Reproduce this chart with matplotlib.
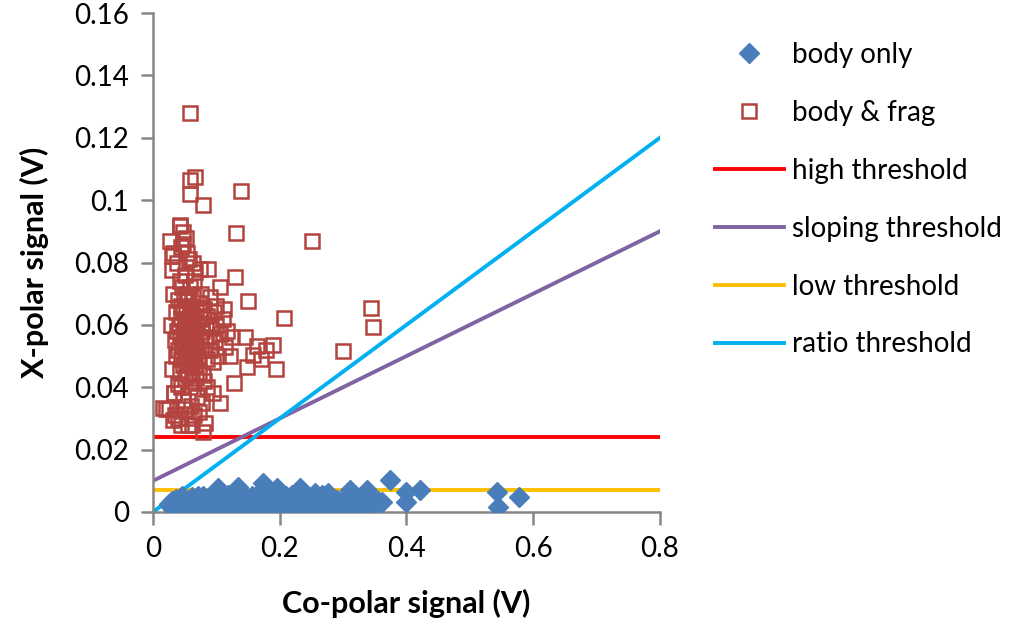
import matplotlib
matplotlib.use('agg')
import matplotlib.pyplot as plt

plt.rcParams['font.family'] = ['Lato', 'DejaVu Sans']

# body only: co-polar / x-polar signal (V)
body_x = [0.025, 0.028, 0.030, 0.032, 0.033, 0.035, 0.036, 0.038, 0.040, 0.041,
          0.042, 0.044, 0.045, 0.047, 0.048, 0.050, 0.051, 0.052, 0.054, 0.055,
          0.057, 0.058, 0.060, 0.061, 0.062, 0.064, 0.065, 0.067, 0.068, 0.070,
          0.071, 0.072, 0.074, 0.075, 0.077, 0.078, 0.080, 0.082, 0.083, 0.085,
          0.087, 0.088, 0.090, 0.092, 0.093, 0.095, 0.097, 0.098, 0.100, 0.102,
          0.104, 0.106, 0.108, 0.110, 0.112, 0.114, 0.116, 0.118, 0.120, 0.123,
          0.126, 0.128, 0.131, 0.134, 0.137, 0.140, 0.143, 0.146, 0.150, 0.153,
          0.156, 0.160, 0.163, 0.167, 0.170, 0.174, 0.178, 0.182, 0.186, 0.190,
          0.194, 0.198, 0.202, 0.206, 0.210, 0.214, 0.218, 0.222, 0.226, 0.230,
          0.234, 0.238, 0.242, 0.246, 0.250, 0.254, 0.258, 0.262, 0.266, 0.270,
          0.274, 0.278, 0.282, 0.286, 0.290, 0.295, 0.300, 0.305, 0.310, 0.315,
          0.320, 0.325, 0.330, 0.335, 0.340, 0.345, 0.350, 0.355, 0.361, 0.374,
          0.400, 0.400, 0.421, 0.543, 0.545, 0.578,
          0.046, 0.053, 0.059, 0.066, 0.073, 0.079, 0.086, 0.094, 0.101, 0.109,
          0.117, 0.125, 0.133, 0.141, 0.149, 0.158, 0.166, 0.176, 0.184, 0.196,
          0.208, 0.220, 0.232, 0.244, 0.256, 0.268, 0.280, 0.292, 0.311, 0.337,
          0.103, 0.134, 0.174, 0.195, 0.232, 0.276]
body_y = [0.0025, 0.0015, 0.0035, 0.0010, 0.0028, 0.0020, 0.0042, 0.0012, 0.0030, 0.0022,
          0.0038, 0.0008, 0.0026, 0.0045, 0.0018, 0.0032, 0.0010, 0.0040, 0.0024, 0.0014,
          0.0036, 0.0028, 0.0006, 0.0048, 0.0020, 0.0034, 0.0012, 0.0040, 0.0025, 0.0017,
          0.0052, 0.0030, 0.0010, 0.0038, 0.0022, 0.0044, 0.0015, 0.0032, 0.0008, 0.0027,
          0.0046, 0.0019, 0.0035, 0.0011, 0.0041, 0.0024, 0.0005, 0.0031, 0.0050, 0.0018,
          0.0037, 0.0013, 0.0028, 0.0044, 0.0021, 0.0009, 0.0034, 0.0055, 0.0016, 0.0039,
          0.0025, 0.0012, 0.0047, 0.0030, 0.0019, 0.0036, 0.0007, 0.0042, 0.0027, 0.0015,
          0.0052, 0.0033, 0.0022, 0.0010, 0.0040, 0.0028, 0.0060, 0.0018, 0.0034, 0.0045,
          0.0012, 0.0026, 0.0038, 0.0020, 0.0050, 0.0009, 0.0031, 0.0043, 0.0016, 0.0058,
          0.0024, 0.0036, 0.0011, 0.0047, 0.0029, 0.0015, 0.0040, 0.0022, 0.0054, 0.0033,
          0.0008, 0.0044, 0.0026, 0.0017, 0.0038, 0.0012, 0.0030, 0.0048, 0.0020, 0.0035,
          0.0024, 0.0045, 0.0014, 0.0052, 0.0030, 0.0041, 0.0022, 0.0036, 0.0033, 0.0103,
          0.0065, 0.0033, 0.0070, 0.0063, 0.0017, 0.0049,
          0.0050, 0.0022, 0.0039, 0.0030, 0.0014, 0.0052, 0.0036, 0.0027, 0.0043, 0.0033,
          0.0024, 0.0050, 0.0018, 0.0028, 0.0046, 0.0021, 0.0057, 0.0032, 0.0025, 0.0042,
          0.0030, 0.0055, 0.0035, 0.0020, 0.0062, 0.0046, 0.0032, 0.0026, 0.0070, 0.0070,
          0.0077, 0.0080, 0.0093, 0.0077, 0.0077, 0.0062]

# body & frag
frag_x = [0.058, 0.066, 0.058, 0.058, 0.079, 0.139, 0.043, 0.047, 0.027, 0.131,
          0.251, 0.344, 0.347, 0.300, 0.129, 0.150, 0.207, 0.189, 0.194, 0.164,
          0.148, 0.128, 0.106, 0.082, 0.079, 0.055, 0.032, 0.016, 0.020, 0.032,
          0.054, 0.087, 0.106, 0.030, 0.063, 0.043, 0.178, 0.170, 0.158, 0.145,
          0.025, 0.028, 0.030, 0.032, 0.033, 0.035, 0.036, 0.037, 0.038, 0.039,
          0.040, 0.040, 0.041, 0.042, 0.042, 0.043, 0.044, 0.044, 0.045, 0.045,
          0.046, 0.046, 0.047, 0.047, 0.048, 0.048, 0.049, 0.049, 0.050, 0.050,
          0.051, 0.051, 0.052, 0.052, 0.053, 0.053, 0.054, 0.054, 0.055, 0.055,
          0.056, 0.056, 0.057, 0.057, 0.058, 0.058, 0.059, 0.059, 0.060, 0.060,
          0.061, 0.061, 0.062, 0.062, 0.063, 0.063, 0.064, 0.064, 0.065, 0.065,
          0.066, 0.067, 0.068, 0.069, 0.070, 0.071, 0.072, 0.073, 0.074, 0.075,
          0.076, 0.078, 0.079, 0.080, 0.082, 0.083, 0.085, 0.086, 0.088, 0.090,
          0.092, 0.094, 0.096, 0.098, 0.100, 0.103, 0.106, 0.110, 0.113, 0.117,
          0.121, 0.125, 0.035, 0.040, 0.045, 0.050, 0.055, 0.060, 0.065, 0.070,
          0.078, 0.085, 0.095, 0.030, 0.033, 0.062, 0.072, 0.038, 0.048, 0.052,
          0.057, 0.066, 0.074, 0.081, 0.090, 0.100, 0.112, 0.044, 0.068, 0.076]
frag_y = [0.1280, 0.1074, 0.1065, 0.1020, 0.0984, 0.1030, 0.0917, 0.0898, 0.0870, 0.0895,
          0.0869, 0.0654, 0.0593, 0.0516, 0.0754, 0.0677, 0.0622, 0.0535, 0.0459, 0.0532,
          0.0465, 0.0413, 0.0349, 0.0285, 0.0257, 0.0279, 0.0295, 0.0333, 0.0330, 0.0830,
          0.0830, 0.0780, 0.0720, 0.0776, 0.0800, 0.0920, 0.0520, 0.0490, 0.0505, 0.0560,
          0.0330, 0.0600, 0.0460, 0.0700, 0.0380, 0.0550, 0.0640, 0.0500, 0.0580, 0.0410,
          0.0680, 0.0520, 0.0600, 0.0450, 0.0740, 0.0560, 0.0490, 0.0620, 0.0400, 0.0660,
          0.0530, 0.0720, 0.0580, 0.0470, 0.0640, 0.0360, 0.0550, 0.0690, 0.0500, 0.0610,
          0.0430, 0.0760, 0.0570, 0.0650, 0.0480, 0.0590, 0.0700, 0.0520, 0.0620, 0.0440,
          0.0560, 0.0680, 0.0500, 0.0600, 0.0400, 0.0720, 0.0540, 0.0630, 0.0470, 0.0580,
          0.0660, 0.0510, 0.0600, 0.0420, 0.0560, 0.0690, 0.0490, 0.0610, 0.0540, 0.0740,
          0.0580, 0.0470, 0.0640, 0.0530, 0.0600, 0.0500, 0.0670, 0.0450, 0.0560, 0.0620,
          0.0520, 0.0580, 0.0440, 0.0650, 0.0550, 0.0600, 0.0490, 0.0630, 0.0560, 0.0520,
          0.0590, 0.0480, 0.0640, 0.0550, 0.0600, 0.0500, 0.0570, 0.0620, 0.0530, 0.0580,
          0.0500, 0.0560, 0.0310, 0.0300, 0.0280, 0.0330, 0.0300, 0.0340, 0.0310, 0.0370,
          0.0350, 0.0400, 0.0380, 0.0820, 0.0380, 0.0280, 0.0320, 0.0800, 0.0860, 0.0880,
          0.0810, 0.0770, 0.0780, 0.0420, 0.0690, 0.0660, 0.0650, 0.0850, 0.0430, 0.0700]

# thresholds
x_range = [0.0, 0.8]
high_threshold = 0.024
low_threshold = 0.007
sloping_offset = 0.010
sloping_gradient = 0.10
ratio_gradient = 0.15

fig = plt.figure(figsize=(10.3, 6.25), dpi=100)
ax = fig.add_axes([0.1485, 0.1808, 0.4922, 0.7984])

ax.plot(body_x, body_y, linestyle='none', marker='D', markersize=10,
        color='#4A7EBB', label='body only', zorder=3)
ax.plot(frag_x, frag_y, linestyle='none', marker='s', markersize=10,
        markerfacecolor='none', markeredgecolor='#B3433F', markeredgewidth=1.8,
        label='body & frag', zorder=3)
ax.plot(x_range, [high_threshold, high_threshold], color='#FF0000', lw=2.8,
        label='high threshold', zorder=2)
ax.plot(x_range, [sloping_offset + sloping_gradient * x for x in x_range],
        color='#8064A2', lw=2.8, label='sloping threshold', zorder=2)
ax.plot(x_range, [low_threshold, low_threshold], color='#FFC000', lw=2.8,
        label='low threshold', zorder=2)
ax.plot(x_range, [ratio_gradient * x for x in x_range], color='#00B0F0',
        lw=2.8, label='ratio threshold', zorder=2)

ax.set_xlim(0, 0.8)
ax.set_ylim(0, 0.16)
ax.set_xticks([0, 0.2, 0.4, 0.6, 0.8])
ax.set_xticklabels(['0', '0.2', '0.4', '0.6', '0.8'])
ax.set_yticks([0, 0.02, 0.04, 0.06, 0.08, 0.1, 0.12, 0.14, 0.16])
ax.set_yticklabels(['0', '0.02', '0.04', '0.06', '0.08', '0.1', '0.12', '0.14', '0.16'])
ax.tick_params(labelsize=20, length=9, width=1.8, color='#868686', pad=8)
for side in ['top', 'right']:
    ax.spines[side].set_visible(False)
for side in ['left', 'bottom']:
    ax.spines[side].set_color('#868686')
    ax.spines[side].set_linewidth(1.8)

ax.set_xlabel('Co-polar signal (V)', fontsize=22, fontweight='bold', labelpad=20)
ax.set_ylabel('X-polar signal (V)', fontsize=22, fontweight='bold', labelpad=18)

fig.legend(loc='upper left', bbox_to_anchor=(0.683, 0.951), frameon=False,
           fontsize=20, handlelength=2.5, labelspacing=1.15, handletextpad=0.3,
           borderaxespad=0)

plt.savefig('out.png')
